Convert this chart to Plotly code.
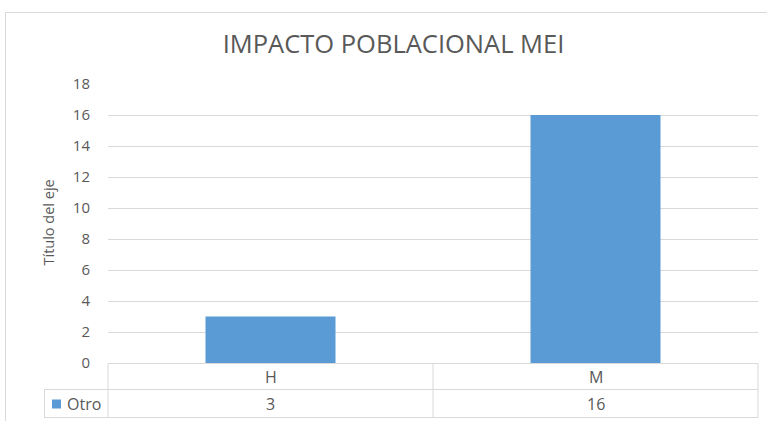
import plotly.graph_objects as go

# data
categories = ["H", "M"]
series_name = "Otro"
values = [3, 16]
title_text = "IMPACTO POBLACIONAL MEI"
y_title = "Título del eje"

BAR = "#5B9BD5"
LINE = "#d9d9d9"
TXT = "#595959"
FONT = "Open Sans"

W, H = 767, 421
L, R, T, B = 108, 9, 84, 58
PW, PH = W - L - R, H - T - B


def px_x(x):
    return (x - L) / PW


def px_y(y):
    return (H - B - y) / PH


fig = go.Figure()
fig.add_trace(go.Bar(x=categories, y=values, name=series_name,
                     marker=dict(color=BAR, line=dict(width=0))))

shapes = []


def hline(x0, x1, y):
    shapes.append(dict(type="line", xref="paper", yref="paper",
                       x0=px_x(x0), x1=px_x(x1), y0=px_y(y), y1=px_y(y),
                       line=dict(color=LINE, width=1)))


def vline(x, y0, y1):
    shapes.append(dict(type="line", xref="paper", yref="paper",
                       x0=px_x(x), x1=px_x(x), y0=px_y(y0), y1=px_y(y1),
                       line=dict(color=LINE, width=1)))


# chart border
hline(5, 767, 12.5)
vline(5.5, 12, 421)

# data table grid
hline(108, 758, 363.5)
hline(44, 758, 389.5)
hline(44, 758, 417.5)
vline(44.5, 389.5, 417.5)
vline(108, 363.5, 417.5)
vline(433, 363.5, 417.5)
vline(758, 363.5, 417.5)

# legend key
shapes.append(dict(type="rect", xref="paper", yref="paper",
                   x0=px_x(52), x1=px_x(61), y0=px_y(399.5), y1=px_y(408.5),
                   fillcolor=BAR, line=dict(width=0)))

cell_font = dict(family=FONT, size=16, color=TXT)
annotations = []
for cat, v in zip(categories, values):
    annotations.append(dict(x=cat, xref="x", y=px_y(377), yref="paper",
                            text=cat, showarrow=False, font=cell_font,
                            xanchor="center", yanchor="middle"))
    annotations.append(dict(x=cat, xref="x", y=px_y(403.5), yref="paper",
                            text=str(v), showarrow=False, font=cell_font,
                            xanchor="center", yanchor="middle"))
annotations.append(dict(x=px_x(65), xref="paper", y=px_y(403.5), yref="paper",
                        text=series_name, showarrow=False, font=cell_font,
                        xanchor="left", yanchor="middle"))
annotations.append(dict(x=px_x(47.5), xref="paper", y=px_y(223), yref="paper",
                        text=y_title, showarrow=False, textangle=-90,
                        xanchor="center", yanchor="middle",
                        font=dict(family=FONT, size=14.5, color=TXT)))

fig.update_layout(
    width=W, height=H,
    margin=dict(l=L, r=R, t=T, b=B),
    paper_bgcolor="white", plot_bgcolor="white",
    title=dict(text=title_text, x=393.5 / W, xanchor="center",
               y=1 - 44 / H, yanchor="middle",
               font=dict(family=FONT, size=25.5, color=TXT)),
    showlegend=False,
    bargap=0.6,
    xaxis=dict(type="category", range=[-0.5, 1.5], showticklabels=False,
               showgrid=False, zeroline=False, showline=False, fixedrange=True),
    yaxis=dict(range=[0, 18], dtick=2, showgrid=True, gridcolor=LINE,
               gridwidth=1, zeroline=False, showline=False,
               ticks="outside", ticklen=14, tickcolor="rgba(0,0,0,0)",
               tickfont=dict(family=FONT, size=15, color=TXT)),
    shapes=shapes,
    annotations=annotations,
)

fig.write_html("out.html", config={"displayModeBar": False},
               post_script="document.body.style.margin='0';")
